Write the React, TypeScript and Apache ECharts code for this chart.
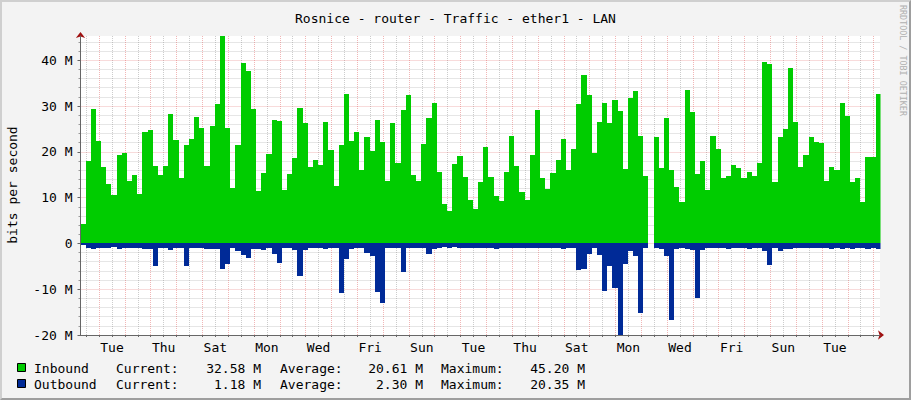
import React, { useEffect, useRef } from 'react';
import * as echarts from 'echarts';

// ---- data (values in Mbit/s), one value per 4.8 h step ----
const STEP_HOURS = 4.8;
const X_MAX_HOURS = 743.2;
const FIRST_MIDNIGHT = 17.3;
const Y_MIN = -20;
const Y_MAX = 45.3;

const inbound: (number | null)[] = [
  4.2, 18.0, 29.3, 22.4, 16.7, 13.0, 10.6, 19.3, 19.7, 13.7,
  14.9, 10.8, 24.3, 24.7, 16.9, 14.9, 16.9, 28.3, 22.6, 14.3,
  21.5, 22.8, 27.6, 25.2, 16.9, 25.6, 30.5, 45.2, 25.2, 12.1,
  21.5, 39.4, 37.7, 29.4, 11.5, 15.4, 19.5, 27.0, 26.8, 11.7,
  15.2, 18.7, 29.6, 26.3, 16.7, 18.2, 17.1, 26.5, 20.4, 12.5,
  21.5, 32.6, 22.4, 24.3, 16.0, 23.2, 20.2, 27.0, 22.1, 13.6,
  26.3, 17.6, 29.1, 32.4, 14.9, 13.6, 21.7, 27.4, 30.7, 15.6,
  8.6, 7.1, 17.3, 19.1, 14.5, 9.5, 7.5, 13.4, 21.1, 14.5,
  10.3, 9.3, 15.6, 23.5, 16.9, 11.2, 9.5, 19.3, 29.1, 14.3,
  11.9, 15.4, 18.2, 22.8, 16.0, 20.6, 30.5, 36.8, 32.4, 19.7,
  26.5, 30.7, 26.3, 31.3, 28.9, 16.2, 31.8, 33.3, 23.5, 14.7,
  null, 23.2, 16.5, 27.4, 16.0, 12.3, 9.0, 33.5, 28.7, 15.2,
  18.0, 11.7, 23.5, 20.6, 14.3, 14.7, 17.1, 16.5, 14.3, 15.6,
  14.7, 17.6, 39.6, 39.2, 13.4, 23.2, 25.0, 38.3, 26.5, 16.7,
  19.3, 23.2, 22.1, 21.9, 13.6, 16.7, 16.0, 30.7, 27.8, 13.4,
  14.3, 9.0, 18.9, 18.9, 32.6,
];

const outbound: (number | null)[] = [
  0.4, 0.9, 1.3, 0.9, 1.1, 1.1, 0.7, 1.3, 0.9, 0.9,
  0.9, 0.9, 1.3, 1.3, 5.0, 1.1, 0.9, 1.5, 1.1, 0.9,
  5.0, 1.1, 0.9, 0.9, 1.3, 1.3, 1.3, 5.5, 4.4, 1.1,
  1.7, 2.6, 3.1, 1.3, 1.3, 1.5, 1.1, 2.4, 4.2, 0.9,
  1.1, 1.5, 7.2, 1.5, 1.1, 0.9, 0.9, 1.3, 0.9, 0.9,
  10.9, 3.3, 1.3, 1.1, 0.9, 2.0, 2.8, 10.7, 13.1, 0.9,
  1.1, 0.9, 6.3, 0.9, 0.9, 0.9, 1.1, 2.4, 1.3, 0.9,
  0.7, 0.9, 0.7, 0.9, 0.9, 1.1, 0.9, 0.9, 1.1, 0.9,
  1.3, 0.9, 1.1, 0.9, 1.1, 0.9, 0.9, 1.1, 1.1, 0.9,
  1.1, 0.9, 1.1, 1.3, 0.9, 1.1, 5.7, 5.5, 2.4, 1.1,
  2.6, 10.3, 5.0, 9.8, 20.3, 4.4, 1.7, 2.8, 15.1, 1.1,
  null, 1.1, 1.3, 2.8, 16.8, 1.3, 1.1, 1.3, 1.5, 12.0,
  1.5, 1.1, 1.1, 1.1, 1.1, 1.3, 1.1, 1.1, 0.9, 1.3,
  1.1, 1.1, 1.7, 4.8, 1.1, 1.7, 1.3, 1.3, 1.1, 1.1,
  1.1, 1.1, 1.1, 1.1, 1.1, 1.3, 1.1, 1.3, 1.1, 1.3,
  1.1, 1.1, 1.3, 1.1, 1.2,
];

const xLabels = ['Tue', 'Thu', 'Sat', 'Mon', 'Wed', 'Fri', 'Sun', 'Tue', 'Thu', 'Sat', 'Mon', 'Wed', 'Fri', 'Sun', 'Tue'];
const yTickValues = [-20, -10, 0, 10, 20, 30, 40];
const yTickLabels = ['-20 M', '-10 M', '0', '10 M', '20 M', '30 M', '40 M'];

const legendNames = ['Inbound', 'Outbound'];
const currentVals = ['32.58 M', '1.18 M'];
const averageVals = ['20.61 M', '2.30 M'];
const maximumVals = ['45.20 M', '20.35 M'];

const TITLE = 'Rosnice - router - Traffic - ether1 - LAN';

// ---- styles ----
const GREEN = '#00cc00';
const BLUE = '#002a97';
const MONO = 'DejaVu Sans Mono';
const MAJOR = 'rgba(222,80,80,0.42)';
const MINOR = 'rgba(143,143,143,0.45)';
const AXIS = '#666666';
const ARROW = '#a01010';

function stepSeries(name: string, values: (number | null)[], sign: number, color: string) {
  return {
    name,
    type: 'custom',
    xAxisIndex: 0,
    yAxisIndex: 0,
    z: 5,
    silent: true,
    clip: true,
    encode: { x: [0, 1], y: 2 },
    data: values.map((v, i) => [STEP_HOURS * i, STEP_HOURS * (i + 1), v == null ? '-' : sign * v]),
    renderItem: (params: any, api: any) => {
      const v = api.value(2);
      if (v == null || isNaN(v)) return null;
      const p0 = api.coord([api.value(0), 0]);
      const p1 = api.coord([api.value(1), v]);
      const cs = params.coordSys;
      const left = Math.round(p0[0]);
      const right = Math.round(p1[0]);
      const top = Math.round(Math.min(p0[1], p1[1]));
      const bottom = Math.round(Math.max(p0[1], p1[1]));
      const rect = echarts.graphic.clipRectByRect(
        { x: left, y: top, width: right - left, height: bottom - top },
        { x: Math.round(cs.x), y: cs.y, width: cs.width, height: cs.height },
      );
      if (!rect) return null;
      return { type: 'rect', shape: rect, style: { fill: color } };
    },
  };
}

export default function App() {
  const ref = useRef<HTMLDivElement>(null);

  useEffect(() => {
    if (!ref.current) return;
    const chart = echarts.init(ref.current, null, { renderer: 'svg' });

    const midnights: number[] = [];
    for (let t = FIRST_MIDNIGHT; t <= X_MAX_HOURS; t += 24) midnights.push(t);
    const noons: number[] = [];
    for (let t = FIRST_MIDNIGHT - 12; t <= X_MAX_HOURS; t += 24) noons.push(t);
    const labelValues = xLabels.map((_, i) => FIRST_MIDNIGHT + 12 + 48 * i);
    const yMinor: number[] = [];
    for (let v = Y_MIN; v <= Y_MAX; v += 2) if (v % 10 !== 0) yMinor.push(v);

    const legendRows: any[] = [];
    const colors = [GREEN, BLUE];
    legendNames.forEach((name, r) => {
      const y = 368 + 16 * r;
      const ts = (x: number, text: string, align: string) => ({
        type: 'text', x, y,
        style: { text, fontFamily: MONO, fontSize: 13, fill: '#000', textAlign: align, textVerticalAlign: 'middle' },
      });
      legendRows.push({
        type: 'rect', shape: { x: 17.5, y: y - 4.5, width: 8, height: 8 },
        style: { fill: colors[r], stroke: '#000', lineWidth: 1 },
      });
      legendRows.push(ts(34, name, 'left'));
      legendRows.push(ts(116, 'Current:', 'left'));
      legendRows.push(ts(261, currentVals[r], 'right'));
      legendRows.push(ts(280, 'Average:', 'left'));
      legendRows.push(ts(423, averageVals[r], 'right'));
      legendRows.push(ts(441, 'Maximum:', 'left'));
      legendRows.push(ts(585, maximumVals[r], 'right'));
    });

    const option: any = {
      animation: false,
      backgroundColor: '#f3f3f3',
      title: {
        text: TITLE, left: 'center', top: 7,
        textStyle: { fontFamily: MONO, fontSize: 13, fontWeight: 'normal', color: '#000' },
      },
      grid: { left: 80.5, right: 31, top: 36, bottom: 65, show: true, backgroundColor: '#ffffff', borderWidth: 0 },
      xAxis: [
        {
          type: 'value', min: 0, max: X_MAX_HOURS, position: 'bottom', z: 2,
          axisLine: { show: true, onZero: false, lineStyle: { color: AXIS, width: 1 } },
          axisTick: { show: true, customValues: midnights, length: 2, lineStyle: { color: AXIS } },
          axisLabel: { show: false },
          splitLine: { show: true, lineStyle: { color: MAJOR, type: [1, 1], width: 1 } },
        },
        {
          type: 'value', min: 0, max: X_MAX_HOURS, position: 'bottom', z: 1,
          axisLine: {
            show: true, onZero: false, symbol: ['none', 'arrow'], symbolSize: [7, 6], symbolOffset: [0, 4],
            lineStyle: { color: ARROW, width: 1 },
          },
          axisTick: { show: true, customValues: noons, length: 2, lineStyle: { color: AXIS } },
          axisLabel: {
            show: true, customValues: labelValues, margin: 6,
            formatter: (v: number) => xLabels[Math.round((v - FIRST_MIDNIGHT - 12) / 48)] ?? '',
            fontFamily: MONO, fontSize: 13, color: '#000',
          },
          splitLine: { show: true, lineStyle: { color: MINOR, type: [1, 1], width: 1 } },
        },
      ],
      yAxis: [
        {
          type: 'value', min: Y_MIN, max: Y_MAX, position: 'left', z: 2,
          axisLine: { show: true, onZero: false, lineStyle: { color: AXIS, width: 1 } },
          axisTick: { show: true, customValues: yTickValues, length: 3, lineStyle: { color: AXIS } },
          axisLabel: {
            show: true, customValues: yTickValues, margin: 8,
            formatter: (v: number) => { const i = yTickValues.indexOf(v); return i >= 0 ? yTickLabels[i] : ''; },
            fontFamily: MONO, fontSize: 13, color: '#000',
          },
          splitLine: { show: true, lineStyle: { color: MAJOR, type: [1, 1], width: 1 } },
        },
        {
          type: 'value', min: Y_MIN, max: Y_MAX, position: 'left', z: 1,
          axisLine: {
            show: true, onZero: false, symbol: ['none', 'arrow'], symbolSize: [7, 6], symbolOffset: [0, 4],
            lineStyle: { color: ARROW, width: 1 },
          },
          axisTick: { show: true, customValues: yMinor, length: 2, lineStyle: { color: '#999' } },
          axisLabel: { show: false },
          splitLine: { show: true, lineStyle: { color: MINOR, type: [1, 1], width: 1 } },
        },
      ],
      series: [
        stepSeries('Inbound', inbound, 1, GREEN),
        stepSeries('Outbound', outbound, -1, BLUE),
      ],
      graphic: [
        {
          type: 'text', x: 12, y: 185, rotation: Math.PI / 2,
          style: { text: 'bits per second', fontFamily: MONO, fontSize: 13, fill: '#000', textAlign: 'center', textVerticalAlign: 'middle' },
        },
        {
          type: 'text', x: 903, y: 5, rotation: -Math.PI / 2,
          style: { text: 'RRDTOOL / TOBI OETIKER', fontFamily: MONO, fontSize: 8.4, fill: '#b0b0b0', textAlign: 'left', textVerticalAlign: 'middle' },
        },
        ...legendRows,
      ],
    };

    chart.setOption(option);
    return () => chart.dispose();
  }, []);

  return (
    <div style={{ position: 'absolute', left: 0, top: 0, width: 911, height: 400 }}>
      <div ref={ref} style={{ position: 'absolute', left: 0, top: 0, width: 911, height: 400 }} />
      <div
        style={{
          position: 'absolute', left: 0, top: 0, width: 911, height: 400, boxSizing: 'border-box', pointerEvents: 'none',
          borderTop: '2px solid #cfcfcf', borderLeft: '2px solid #cfcfcf',
          borderRight: '2px solid #9e9e9e', borderBottom: '2px solid #9e9e9e',
        }}
      />
    </div>
  );
}
